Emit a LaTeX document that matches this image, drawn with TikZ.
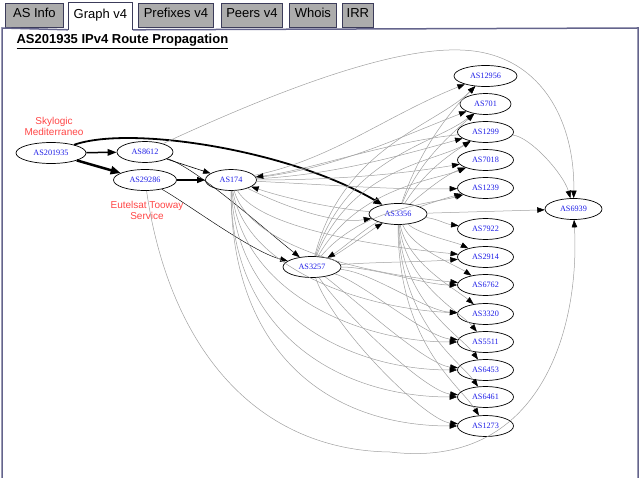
\documentclass[tikz,border=0pt]{standalone}
\usepackage{fontspec}
\setmainfont{Liberation Serif}
\newfontfamily\arialf{Liberation Sans}
\usetikzlibrary{arrows.meta,shapes.geometric}
\definecolor{tabgray}{RGB}{172,172,172}
\definecolor{tabline}{RGB}{60,60,90}
\definecolor{framec}{RGB}{100,100,140}
\definecolor{edgegray}{RGB}{160,160,160}
\definecolor{asblue}{RGB}{30,30,230}
\definecolor{labred}{RGB}{255,70,70}
\tikzset{
 asn/.style={ellipse, draw=black, line width=0.7pt, minimum height=21pt, inner sep=0pt, text=asblue, font=\fontsize{8.2}{9}\selectfont},
 ge/.style={draw=edgegray, line width=0.5pt, -{Triangle[length=7.5pt,width=5.5pt,color=black]}},
 be/.style={draw=black, line width=0.6pt, -{Triangle[length=7.5pt,width=5.5pt]}},
 tabbox/.style={draw=tabline, line width=0.8pt, fill=tabgray, minimum height=24pt, inner sep=0pt, text height=9.5pt, text depth=4.5pt, font=\arialf\fontsize{13}{15}\selectfont, text=black, anchor=north west},
 redlab/.style={text=labred, font=\arialf\fontsize{10}{11}\selectfont, align=center},
}
\begin{document}
\begin{tikzpicture}[x=1pt,y=-1pt]
\useasboundingbox (0,0) rectangle (640,478);
% tabs
\node[tabbox, minimum width=58pt] (tabA) at (5,3) {AS Info};
\node[tabbox, fill=white, draw=none, minimum width=64pt, minimum height=27pt] (tabG) at (68,2) {Graph v4};
\node[tabbox, minimum width=75pt] (tabP) at (138,3) {Prefixes v4};
\node[tabbox, minimum width=61pt] (tabR) at (221,3) {Peers v4};
\node[tabbox, minimum width=47pt] (tabW) at (289,3) {Whois};
\node[tabbox, minimum width=31pt] (tabI) at (342,3) {IRR};
\draw[tabline, line width=0.8pt] (tabG.south west) -- (tabG.north west) -- (tabG.north east) -- (tabG.south east);
% frame
\draw[framec, line width=1.5pt] (2,478) -- (2,28) -- (tabG.south west);
\draw[framec, line width=1.5pt] (tabG.south east) -- (638,28) -- (638,478);
% title
\node[anchor=base west, font=\arialf\bfseries\fontsize{13}{15}\selectfont] (title) at (13,44) {\underline{AS201935 IPv4 Route Propagation}};
% labels
\node[redlab] (lsky) at (54,126) {Skylogic\\Mediterraneo};
\node[redlab] (leut) at (147,210) {Eutelsat Tooway\\Service};
% nodes
\node[asn, minimum width=70pt] (n201935) at (51,153) {AS201935};
\node[asn, minimum width=56pt] (n8612) at (145,152) {AS8612};
\node[asn, minimum width=63pt] (n29286) at (145,180) {AS29286};
\node[asn, minimum width=51pt] (n174) at (231,180) {AS174};
\node[asn, minimum width=58pt] (n3356) at (398,214) {AS3356};
\node[asn, minimum width=58pt] (n3257) at (312,267) {AS3257};
\node[asn, minimum width=63pt] (n12956) at (485.5,76) {AS12956};
\node[asn, minimum width=51pt] (n701) at (485.5,104) {AS701};
\node[asn, minimum width=56pt] (n1299) at (485.5,132) {AS1299};
\node[asn, minimum width=56pt] (n7018) at (485.5,160) {AS7018};
\node[asn, minimum width=56pt] (n1239) at (485.5,188) {AS1239};
\node[asn, minimum width=56pt] (n7922) at (485.5,229) {AS7922};
\node[asn, minimum width=56pt] (n2914) at (485.5,257) {AS2914};
\node[asn, minimum width=56pt] (n6762) at (485.5,285) {AS6762};
\node[asn, minimum width=56pt] (n3320) at (485.5,314) {AS3320};
\node[asn, minimum width=56pt] (n5511) at (485.5,342) {AS5511};
\node[asn, minimum width=56pt] (n6453) at (485.5,370) {AS6453};
\node[asn, minimum width=56pt] (n6461) at (485.5,397) {AS6461};
\node[asn, minimum width=56pt] (n1273) at (485.5,426) {AS1273};
\node[asn, minimum width=57pt] (n6939) at (573.5,209) {AS6939};
% black edges
\draw[be, line width=1.5pt, -{Triangle[length=9pt,width=6.5pt]}] (n201935) -- (n8612);
\draw[be, line width=2.5pt, -{Triangle[length=10pt,width=8pt]}] (n201935) -- (n29286);
\draw[be, line width=1.8pt, -{Triangle[length=9pt,width=7pt]}] (n201935) .. controls +(79,-28) and +(-108,-64) .. (n3356);
\draw[be] (n8612) -- (n174);
\draw[be, line width=1.1pt, -{Triangle[length=8pt,width=6pt]}] (n29286) -- (n174);
\draw[be, line width=0.45pt] (n8612) .. controls +(50,15) and +(-50,-40) .. (n3257);
\draw[be, line width=0.45pt] (n29286) .. controls +(40,22) and +(-60,-15) .. (n3257);
% long gray arcs
\draw[ge] (n8612) .. controls (300,80) and (400,48) .. (460,50) .. controls (540,52) and (575,120) .. (n6939);
\draw[ge] (n29286) .. controls (168,340) and (250,450) .. (390,452) .. controls (540,470) and (580,330) .. (n6939);
\draw[ge] (n1299) .. controls +(45,5) and +(-10,-35) .. (n6939);
\draw[ge] (n3356) -- (n6939);
% AS174 to upper column
\draw[ge] (n174) .. controls +(100,-20) and +(-100,40) .. (n12956);
\draw[ge] (n174) .. controls +(100,-10) and +(-90,35) .. (n701);
\draw[ge] (n174) .. controls +(100,-5) and +(-90,25) .. (n1299);
\draw[ge] (n174) .. controls +(100,0) and +(-90,15) .. (n7018);
\draw[ge] (n174) .. controls +(100,5) and +(-90,2) .. (n1239);
% AS3356 to upper column
\draw[ge] (n3356) .. controls +(20,-60) and +(-40,40) .. (n12956);
\draw[ge] (n3356) .. controls +(20,-50) and +(-40,35) .. (n701);
\draw[ge] (n3356) .. controls +(25,-40) and +(-40,25) .. (n1299);
\draw[ge] (n3356) .. controls +(30,-25) and +(-40,15) .. (n7018);
\draw[ge] (n3356) .. controls +(30,-10) and +(-40,10) .. (n1239);
% AS3257 to upper column
\draw[ge] (n3257) .. controls +(30,-120) and +(-50,50) .. (n12956);
\draw[ge] (n3257) .. controls +(35,-110) and +(-50,40) .. (n701);
\draw[ge] (n3257) .. controls +(40,-100) and +(-50,30) .. (n1299);
\draw[ge] (n3257) .. controls +(45,-80) and +(-50,20) .. (n7018);
\draw[ge] (n3257) .. controls +(50,-60) and +(-50,15) .. (n1239);
\draw[ge] (n3356) .. controls +(40,5) and +(-40,-5) .. (n7922);
% AS174 to lower column
\draw[ge] (n174) .. controls +(30,50) and +(-100,-10) .. (n2914);
\draw[ge] (n174) .. controls +(20,70) and +(-110,-10) .. (n6762);
\draw[ge] (n174) .. controls +(15,90) and +(-120,-5) .. (n3320);
\draw[ge] (n174) .. controls +(10,110) and +(-130,0) .. (n5511);
\draw[ge] (n174) .. controls +(5,130) and +(-140,0) .. (n6453);
\draw[ge] (n174) .. controls +(0,150) and +(-150,0) .. (n6461);
\draw[ge] (n174) .. controls +(0,170) and +(-160,0) .. (n1273);
% AS3356 to lower column
\draw[ge] (n3356) .. controls +(20,20) and +(-30,-15) .. (n2914);
\draw[ge] (n3356) .. controls +(15,35) and +(-30,-20) .. (n6762);
\draw[ge] (n3356) .. controls +(10,50) and +(-30,-25) .. (n3320);
\draw[ge] (n3356) .. controls +(8,70) and +(-25,-30) .. (n5511);
\draw[ge] (n3356) .. controls +(5,90) and +(-25,-35) .. (n6453);
\draw[ge] (n3356) .. controls +(3,110) and +(-25,-35) .. (n6461);
\draw[ge] (n3356) .. controls +(0,130) and +(-25,-40) .. (n1273);
% AS3257 to lower column
\draw[ge] (n3257) .. controls +(60,-5) and +(-60,5) .. (n2914);
\draw[ge] (n3257) .. controls +(60,0) and +(-60,0) .. (n6762);
\draw[ge] (n3257) .. controls +(60,5) and +(-60,-3) .. (n3320);
\draw[ge] (n3257) .. controls +(50,15) and +(-60,-5) .. (n5511);
\draw[ge] (n3257) .. controls +(40,30) and +(-60,-5) .. (n6453);
\draw[ge] (n3257) .. controls +(30,45) and +(-60,-5) .. (n6461);
\draw[ge] (n3257) .. controls +(20,60) and +(-60,-5) .. (n1273);
% cross links
\draw[ge] (n174) .. controls +(60,30) and +(-60,10) .. (n3356);
\draw[ge] (n3356) .. controls +(-60,-5) and +(60,20) .. (n174);
\draw[ge] (n1299) .. controls +(-100,10) and +(80,-10) .. (n174);
\draw[ge] (n3257) .. controls +(30,-15) and +(-25,15) .. (n3356);
\draw[ge] (n3356) .. controls +(-30,12) and +(30,-18) .. (n3257);
\end{tikzpicture}
\end{document}
